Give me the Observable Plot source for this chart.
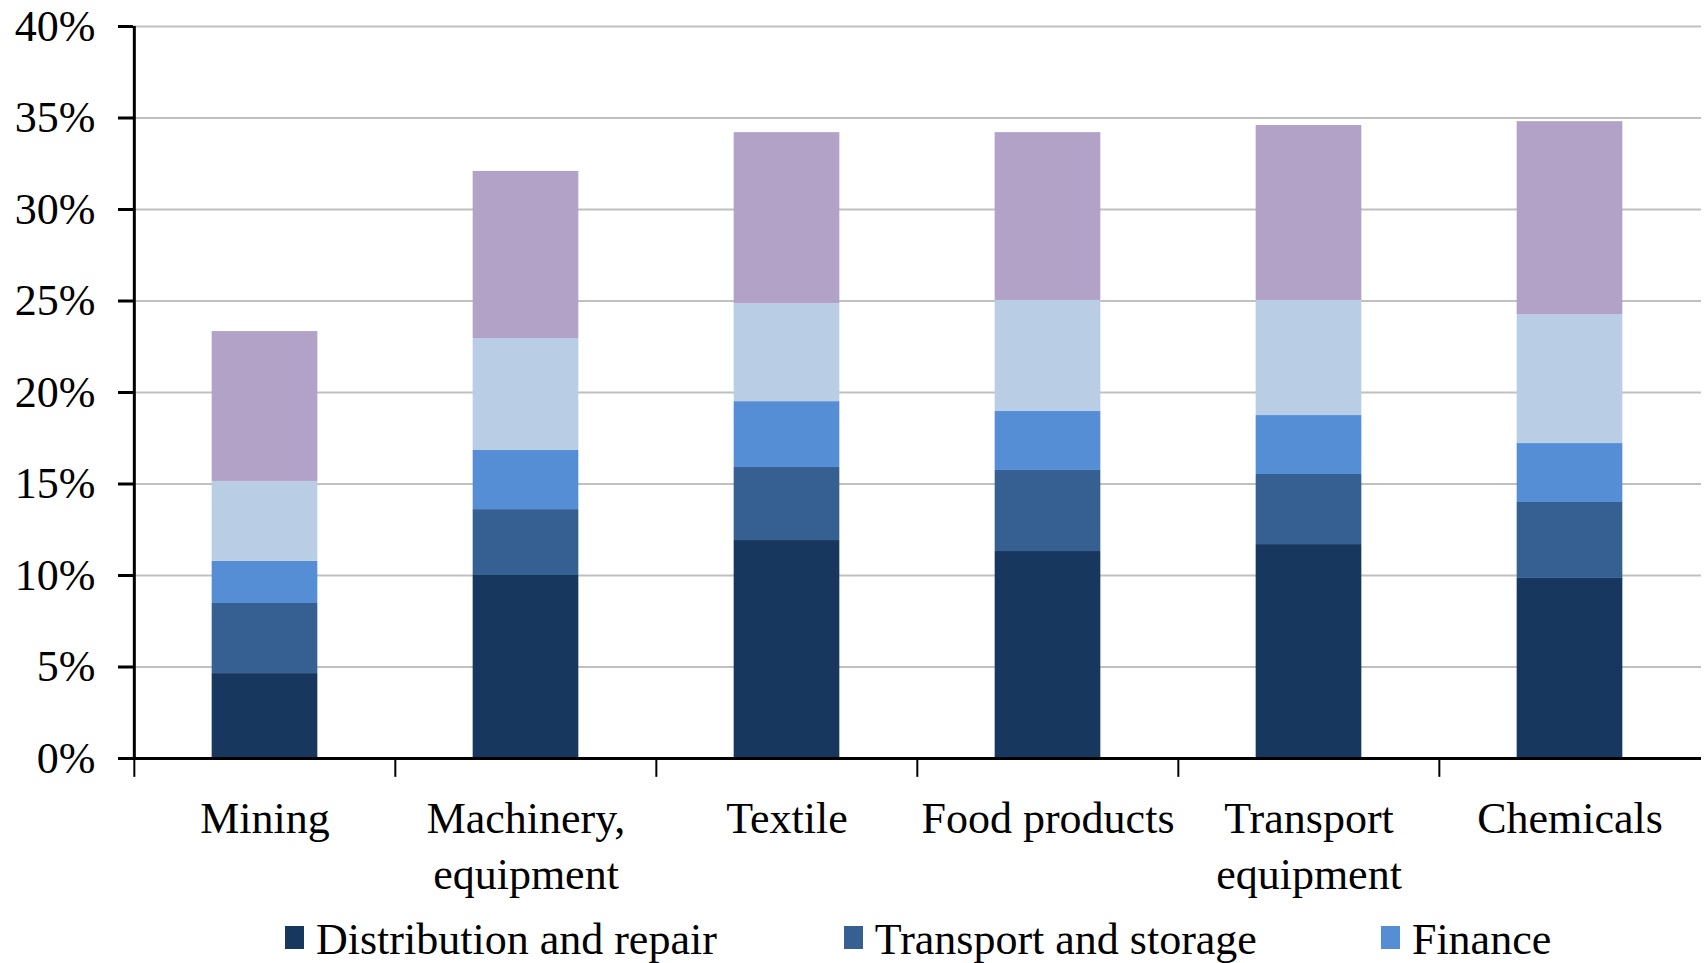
<!DOCTYPE html>
<html>
<head>
<meta charset="utf-8">
<script src="https://cdn.jsdelivr.net/npm/d3@7"></script>
<script src="https://cdn.jsdelivr.net/npm/@observablehq/plot@0.6"></script>
<style>
  html, body { margin: 0; padding: 0; background: #fff; width: 1708px; height: 963px; overflow: hidden; }
  #chart svg { display: block; }
  #legend { display: flex; align-items: center; padding-left: 285px; margin-top: 13px;
            font-family: "Liberation Serif", serif; font-size: 44px; color: #000; }
  .item { display: flex; align-items: center; line-height: 44px; white-space: nowrap; }
  .item:nth-child(1) { margin-right: 127px; }
  .item:nth-child(2) { margin-right: 124px; }
  .sw { width: 19px; height: 23px; margin-right: 12px; position: relative; top: -3px; }
</style>
</head>
<body>
<div id="chart"></div>
<div id="legend"></div>
<script>
const categories = ["Mining", "Machinery, equipment", "Textile", "Food products", "Transport equipment", "Chemicals"];
const categoryLabels = ["Mining", "Machinery,\nequipment", "Textile", "Food products", "Transport\nequipment", "Chemicals"];
const series = ["Distribution and repair", "Transport and storage", "Finance", "Series 4", "Series 5"];
const legendSeries = ["Distribution and repair", "Transport and storage", "Finance"];
const colors = ["#17375E", "#366092", "#558ED5", "#B9CDE5", "#B3A2C7"];

// values in percent, one array per series, in category order
const distribution = [4.64, 10.0, 11.91, 11.31, 11.69, 9.84];
const transport    = [3.83, 3.60, 3.99, 4.43, 3.83, 4.15];
const finance      = [2.30, 3.23, 3.60, 3.22, 3.22, 3.22];
const series4      = [4.37, 6.12, 5.35, 6.07, 6.29, 7.05];
const series5      = [8.19, 9.13, 9.35, 9.17, 9.56, 10.54];
const yTicks = [0, 5, 10, 15, 20, 25, 30, 35, 40];

const seriesValues = [distribution, transport, finance, series4, series5];
const data = [];
series.forEach((s, si) => categories.forEach((c, ci) => data.push({category: c, series: s, value: seriesValues[si][ci]})));

const width = 1708, height = 905;
const marginLeft = 133, marginRight = 7, marginTop = 26, marginBottom = 147;
const bw = (width - marginLeft - marginRight) / categories.length;
const inset = (bw - 106) / 2;
const labelOf = new Map(categories.map((c, i) => [c, categoryLabels[i]]));

const chart = Plot.plot({
  width, height, marginLeft, marginRight, marginTop, marginBottom,
  style: {fontFamily: "Liberation Serif, serif", fontSize: "44px", background: "#fff", color: "#000", overflow: "visible"},
  x: {domain: categories, padding: 0, axis: null},
  y: {domain: [0, 40], axis: null},
  color: {domain: series, range: colors},
  marks: [
    Plot.ruleY(yTicks.filter(d => d > 0), {stroke: "#c0c0c0", strokeWidth: 2}),
    Plot.barY(data, {x: "category", y: "value", fill: "series", order: series, insetLeft: inset, insetRight: inset}),
    Plot.ruleY([0], {stroke: "#000", strokeWidth: 3}),
    Plot.ruleX([categories[0]], {dx: -bw / 2, stroke: "#000", strokeWidth: 3}),
    Plot.ruleX(categories, {x: d => d, dx: -bw / 2, y1: d => 0, y2: d => -1.03, stroke: "#000", strokeWidth: 2}),
    Plot.axisY({ticks: yTicks, tickFormat: d => d + "%", tickSize: 15, tickPadding: 23, strokeWidth: 3, label: null, fontSize: 44}),
    Plot.text(categories, {x: d => d, y: d => 0, text: d => labelOf.get(d), dy: 35, lineAnchor: "top", lineHeight: 1.27, fontSize: 44, fill: "#000"})
  ]
});
document.getElementById("chart").appendChild(chart);

const legend = document.getElementById("legend");
legendSeries.forEach(s => {
  const item = document.createElement("div");
  item.className = "item";
  const sw = document.createElement("span");
  sw.className = "sw";
  sw.style.background = colors[series.indexOf(s)];
  const t = document.createElement("span");
  t.textContent = s;
  item.appendChild(sw);
  item.appendChild(t);
  legend.appendChild(item);
});
</script>
</body>
</html>
